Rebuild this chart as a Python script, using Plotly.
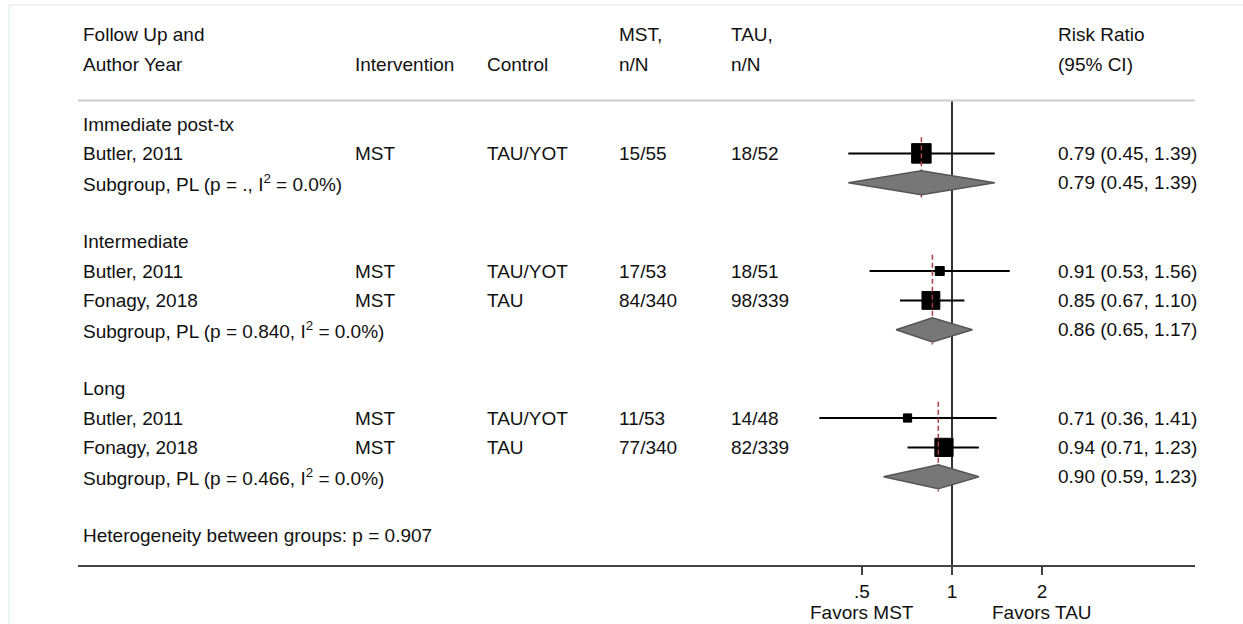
import math
import plotly.graph_objects as go

# ---- data ---------------------------------------------------------------
groups = ["Immediate post-tx", "Intermediate", "Long"]
study_group = [0, 1, 1, 2, 2]
authors = ["Butler, 2011", "Butler, 2011", "Fonagy, 2018", "Butler, 2011", "Fonagy, 2018"]
intervention = ["MST", "MST", "MST", "MST", "MST"]
control = ["TAU/YOT", "TAU/YOT", "TAU", "TAU/YOT", "TAU"]
mst_events = [15, 17, 84, 11, 77]
mst_total = [55, 53, 340, 53, 340]
tau_events = [18, 18, 98, 14, 82]
tau_total = [52, 51, 339, 48, 339]
rr = [0.79, 0.91, 0.85, 0.71, 0.94]
rr_lo = [0.45, 0.53, 0.67, 0.36, 0.71]
rr_hi = [1.39, 1.56, 1.10, 1.41, 1.23]
weight_pct = [100.0, 17.4, 82.6, 13.9, 86.1]

sub_rr = [0.79, 0.86, 0.90]
sub_lo = [0.45, 0.65, 0.59]
sub_hi = [1.39, 1.17, 1.23]
sub_p = [".", "0.840", "0.466"]
sub_i2 = [0.0, 0.0, 0.0]
het_p = "0.907"

tick_vals = [0.5, 1, 2]
tick_text = [".5", "1", "2"]

# ---- geometry -----------------------------------------------------------
W, H = 1243, 624
ROW0_PX, ROW_PX = 124.0, 29.4          # pixel of row 0 and row pitch
AXIS_BOTTOM_PX = 565.0
X_LEFT_PX, X_RIGHT_PX, NULL_PX = 78.0, 1195.0, 952.0
PX_PER_LOG10 = 90.0 / math.log10(2)

def px_to_log(px):
    return (px - NULL_PX) / PX_PER_LOG10

def row_of_px(px):
    return (px - ROW0_PX) / ROW_PX

FONT = "Liberation Sans, Arial, sans-serif"
FS = 19
TXT = "#111111"
COLS = {"author": 81, "interv": 353, "control": 485, "mst": 617, "tau": 729, "rr": 1056}

def fmt_ci(e, l, h):
    return f"{e:.2f} ({l:.2f}, {h:.2f})"

# assign a row to every line of the table
study_rows, sub_rows, group_rows = [], [], []
r = 0
for g in range(len(groups)):
    group_rows.append(r)
    r += 1
    for i, sg in enumerate(study_group):
        if sg == g:
            study_rows.append(r)
            r += 1
    sub_rows.append(r)
    r += 2
het_row = sub_rows[-1] + 2

fig = go.Figure()

# null line at RR = 1
fig.add_trace(go.Scatter(
    x=[1, 1], y=[row_of_px(100), row_of_px(AXIS_BOTTOM_PX)],
    mode="lines", line=dict(color="#000000", width=1.6),
    hoverinfo="skip", showlegend=False))

# confidence interval whiskers
for i in range(len(rr)):
    fig.add_trace(go.Scatter(
        x=[rr_lo[i], rr_hi[i]], y=[study_rows[i], study_rows[i]],
        mode="lines", line=dict(color="#000000", width=2),
        hoverinfo="skip", showlegend=False))

# weighted point-estimate boxes
fig.add_trace(go.Scatter(
    x=rr, y=study_rows, mode="markers",
    marker=dict(symbol="square", color="#000000", opacity=1,
                size=[18 * math.sqrt(w / 100) + 1.5 for w in weight_pct],
                line=dict(color="#000000", width=1)),
    hoverinfo="skip", showlegend=False))

# dashed subgroup estimate lines (over the boxes)
for g in range(len(groups)):
    rows_g = [study_rows[i] for i, sg in enumerate(study_group) if sg == g]
    fig.add_trace(go.Scatter(
        x=[sub_rr[g], sub_rr[g]], y=[min(rows_g) - 0.55, sub_rows[g] + 0.5],
        mode="lines", line=dict(color="#a83a48", width=1.5, dash="5px,3px"),
        hoverinfo="skip", showlegend=False))

# subgroup diamonds
HALF_H = 0.41
for g in range(len(groups)):
    y0 = sub_rows[g]
    fig.add_trace(go.Scatter(
        x=[sub_lo[g], sub_rr[g], sub_hi[g], sub_rr[g], sub_lo[g]],
        y=[y0, y0 - HALF_H, y0, y0 + HALF_H, y0],
        mode="lines", fill="toself", fillcolor="#777777",
        line=dict(color="#555555", width=1.5),
        hoverinfo="skip", showlegend=False))

# ---- text table ---------------------------------------------------------
ann = []

def add_text(col, row, text):
    ann.append(dict(x=COLS[col] / W, xref="paper", y=row, yref="y",
                    text=text, showarrow=False, xanchor="left", yanchor="middle",
                    font=dict(family=FONT, size=FS, color=TXT)))

add_text("author", -3.03, "Follow Up and")
add_text("author", -2.03, "Author Year")
add_text("interv", -2.03, "Intervention")
add_text("control", -2.03, "Control")
add_text("mst", -3.03, "MST,")
add_text("mst", -2.03, "n/N")
add_text("tau", -3.03, "TAU,")
add_text("tau", -2.03, "n/N")
add_text("rr", -3.03, "Risk Ratio")
add_text("rr", -2.03, "(95% CI)")

for g, name in enumerate(groups):
    add_text("author", group_rows[g], name)
    add_text("author", sub_rows[g],
             f"Subgroup, PL (p = {sub_p[g]}, I<sup>2</sup> = {sub_i2[g]:.1f}%)")
    add_text("rr", sub_rows[g], fmt_ci(sub_rr[g], sub_lo[g], sub_hi[g]))

for i in range(len(rr)):
    row = study_rows[i]
    add_text("author", row, authors[i])
    add_text("interv", row, intervention[i])
    add_text("control", row, control[i])
    add_text("mst", row, f"{mst_events[i]}/{mst_total[i]}")
    add_text("tau", row, f"{tau_events[i]}/{tau_total[i]}")
    add_text("rr", row, fmt_ci(rr[i], rr_lo[i], rr_hi[i]))

add_text("author", het_row, f"Heterogeneity between groups: p = {het_p}")

for val, lab in [(0.5, "Favors MST"), (2, "Favors TAU")]:
    ann.append(dict(x=math.log10(val), xref="x", y=1 - 612 / H, yref="paper",
                    text=lab, showarrow=False, xanchor="center", yanchor="middle",
                    font=dict(family=FONT, size=FS, color=TXT)))

shapes = [
    # header rule
    dict(type="line", xref="paper", yref="y",
         x0=X_LEFT_PX / W, x1=X_RIGHT_PX / W, y0=row_of_px(100.5), y1=row_of_px(100.5),
         line=dict(color="#cccccc", width=2)),
    # faint outer frame
    dict(type="line", xref="paper", yref="paper",
         x0=9 / W, x1=9 / W, y0=0, y1=1 - 5 / H,
         line=dict(color="#edf2f2", width=2)),
    dict(type="line", xref="paper", yref="paper",
         x0=9 / W, x1=1, y0=1 - 5 / H, y1=1 - 5 / H,
         line=dict(color="#edf2f2", width=2)),
]

fig.update_layout(
    width=W, height=H,
    margin=dict(l=0, r=0, t=0, b=0),
    paper_bgcolor="#ffffff", plot_bgcolor="#ffffff",
    annotations=ann, shapes=shapes,
    xaxis=dict(type="log",
               domain=[X_LEFT_PX / W, X_RIGHT_PX / W],
               range=[px_to_log(X_LEFT_PX), px_to_log(X_RIGHT_PX)],
               tickvals=tick_vals, ticktext=tick_text,
               ticks="outside", ticklen=8, tickwidth=1.5, tickcolor="#444444",
               ticklabelstandoff=0,
               showline=True, linecolor="#444444", linewidth=2,
               showgrid=False, zeroline=False, fixedrange=True,
               tickfont=dict(family=FONT, size=FS, color=TXT)),
    yaxis=dict(domain=[1 - AXIS_BOTTOM_PX / H, 1],
               range=[row_of_px(AXIS_BOTTOM_PX), row_of_px(0)],
               visible=False, fixedrange=True),
)

fig.write_html("out.html")
